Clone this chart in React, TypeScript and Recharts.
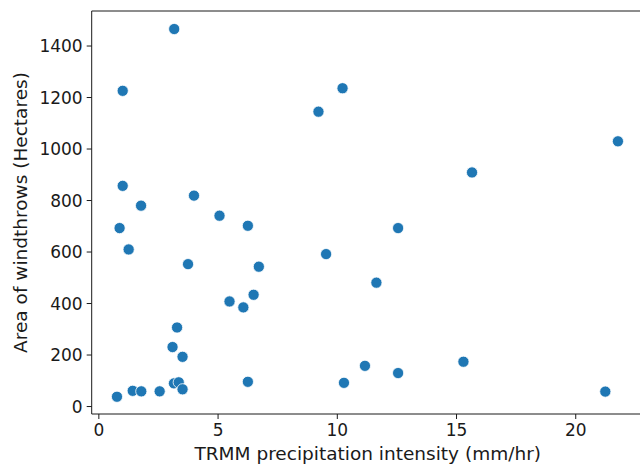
import React from "react";
import { ScatterChart, Scatter, XAxis, YAxis, ReferenceLine } from "recharts";

const precipitation: number[] = [
  3.16, 1.0, 1.0, 1.77, 3.99, 5.06, 6.25, 0.87, 9.21, 10.22, 21.77, 15.65, 12.55,
  1.25, 3.74, 6.71, 5.48, 6.06, 6.49, 3.28, 3.09, 3.51, 3.15, 3.35, 3.51, 6.25,
  0.76, 1.42, 1.78, 2.55, 9.53, 11.64, 11.16, 10.28, 12.55, 15.29, 21.24,
];
const windthrowArea: number[] = [
  1466, 1226, 857, 780, 819, 741, 702, 693, 1145, 1236, 1030, 909, 693,
  610, 553, 543, 408, 385, 434, 307, 231, 193, 90, 94, 67, 96,
  38, 61, 59, 59, 592, 481, 158, 92, 130, 174, 58,
];
const xTicks = [0, 5, 10, 15, 20];
const yTicks = [0, 200, 400, 600, 800, 1000, 1200, 1400];
const xDomain: [number, number] = [-0.3, 22.85];
const yDomain: [number, number] = [-29, 1536];

const data = precipitation.map((x, i) => ({ x, y: windthrowArea[i] }));

const FONT = "DejaVu Sans";
const INK = "#1a1a1a";

const Dot = (props: any) => {
  const { cx, cy } = props;
  if (cx == null || cy == null) return null;
  return <circle cx={cx} cy={cy} r={5.6} fill="#1f77b4" stroke="#ffffff" strokeWidth={0.8} />;
};

export default function App() {
  return (
    <div style={{ position: "absolute", left: 0, top: 0, width: 640, height: 466, overflow: "hidden", background: "#fff" }}>
      <ScatterChart width={650} height={466} margin={{ top: 11, right: 6.3, left: 0, bottom: 0 }}>
        <XAxis
          type="number"
          dataKey="x"
          domain={xDomain}
          ticks={xTicks}
          allowDataOverflow
          height={52}
          tickSize={5}
          tickMargin={5}
          axisLine={{ stroke: INK, strokeWidth: 1 }}
          tickLine={{ stroke: INK, strokeWidth: 1 }}
          tick={{ fill: INK, fontSize: 17, fontFamily: FONT }}
          label={{ value: "TRMM precipitation intensity (mm/hr)", position: "insideBottom", offset: 6, fill: INK, fontSize: 18.5, fontFamily: FONT }}
        />
        <YAxis
          type="number"
          dataKey="y"
          domain={yDomain}
          ticks={yTicks}
          allowDataOverflow
          width={91.7}
          tickSize={5}
          tickMargin={4}
          axisLine={{ stroke: INK, strokeWidth: 1 }}
          tickLine={{ stroke: INK, strokeWidth: 1 }}
          tick={{ fill: INK, fontSize: 17, fontFamily: FONT }}
          label={{ value: "Area of windthrows (Hectares)", angle: -90, position: "insideLeft", offset: 20, fill: INK, fontSize: 18.5, fontFamily: FONT, style: { textAnchor: "middle" } }}
        />
        <ReferenceLine y={yDomain[1]} stroke={INK} strokeWidth={1} />
        <Scatter data={data} isAnimationActive={false} shape={<Dot />} />
      </ScatterChart>
    </div>
  );
}
